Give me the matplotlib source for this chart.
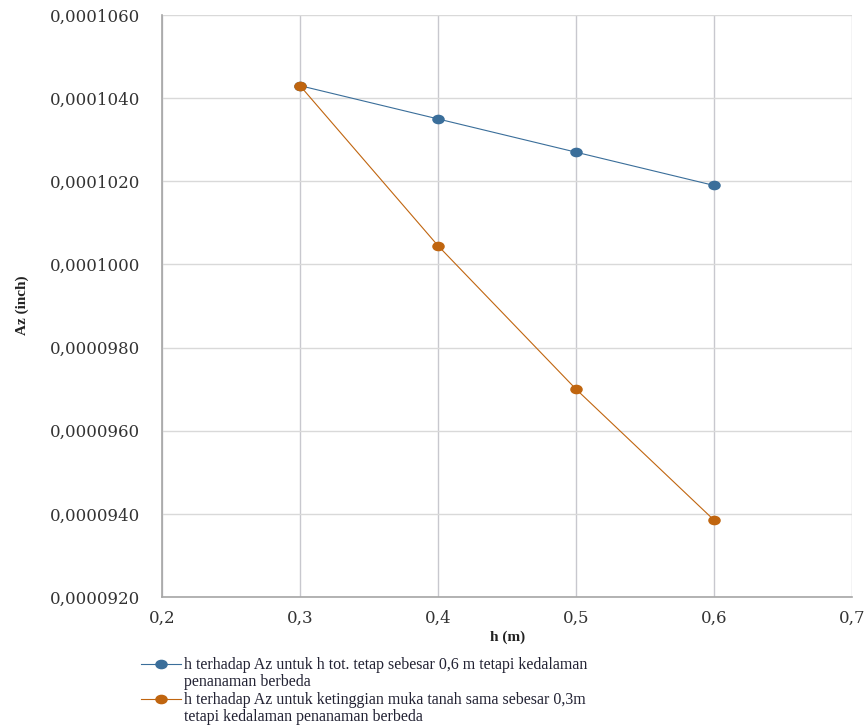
import matplotlib
matplotlib.use("Agg")
import matplotlib.pyplot as plt
from matplotlib.path import Path
from matplotlib.transforms import Affine2D
from matplotlib.ticker import FuncFormatter, MultipleLocator
from matplotlib.legend_handler import HandlerLine2D

# Data
h_values = [0.3, 0.4, 0.5, 0.6]
az_htot_tetap = [0.0001043, 0.0001035, 0.0001027, 0.0001019]
az_muka_tanah_sama = [0.0001043, 0.00010045, 0.0000970, 0.00009385]
series_labels = [
    "h terhadap Az untuk h tot. tetap sebesar 0,6 m tetapi kedalaman\npenanaman berbeda",
    "h terhadap Az untuk ketinggian muka tanah sama sebesar 0,3m\ntetapi kedalaman penanaman berbeda",
]
x_label = "h (m)"
y_label = "Az (inch)"

blue = "#3A6E9A"
orange = "#C0650F"
serif = ["Liberation Serif", "DejaVu Serif"]
tick_font = ["DejaVu Serif"]

# slightly wide elliptical marker
ellipse = Path.unit_circle().transformed(Affine2D().scale(1.35, 1.0))


class TopLineHandler(HandlerLine2D):
    """Legend handle aligned with the first line of a two-line label."""

    def __init__(self, shift, **kw):
        super().__init__(**kw)
        self.shift = shift

    def create_artists(self, legend, orig_handle, xdescent, ydescent,
                       width, height, fontsize, trans):
        artists = super().create_artists(legend, orig_handle, xdescent, ydescent,
                                         width, height, fontsize, trans)
        for a in artists:
            a.set_ydata([y + self.shift for y in a.get_ydata()])
        return artists


fig = plt.figure(figsize=(8.68, 7.26), dpi=100)
ax = fig.add_axes([162 / 868, 1 - 597 / 726, (852 - 162) / 868, (597 - 15) / 726])

l1, = ax.plot(h_values, az_htot_tetap, color=blue, lw=0.8, marker=ellipse,
              markersize=8, markerfacecolor=blue, markeredgecolor=blue, zorder=3)
l2, = ax.plot(h_values, az_muka_tanah_sama, color=orange, lw=0.8, marker=ellipse,
              markersize=8, markerfacecolor=orange, markeredgecolor=orange, zorder=3)

ax.set_xlim(0.2, 0.7)
ax.set_ylim(0.000092, 0.000106)
ax.xaxis.set_major_locator(MultipleLocator(0.1))
ax.yaxis.set_major_locator(MultipleLocator(0.000002))
ax.xaxis.set_major_formatter(FuncFormatter(lambda v, p: f"{v:.1f}".replace(".", ",")))
ax.yaxis.set_major_formatter(FuncFormatter(lambda v, p: f"{v:.7f}".replace(".", ",")))

ax.grid(axis="y", color="#D9D9D9", lw=1.0)
ax.grid(axis="x", color="#C8C8CE", lw=1.0)
ax.set_axisbelow(True)
for s in ("top", "right"):
    ax.spines[s].set_visible(False)
for s in ("left", "bottom"):
    ax.spines[s].set_color("#A6A6A6")
    ax.spines[s].set_linewidth(1.2)

ax.tick_params(axis="both", length=0, labelcolor="#333333")
ax.tick_params(axis="y", pad=16)
ax.tick_params(axis="x", pad=9)
for lab in ax.get_xticklabels() + ax.get_yticklabels():
    lab.set_family(tick_font)
    lab.set_fontsize(12)

fig.text(508 / 868, 1 - 637 / 726, x_label, ha="center", va="center",
         family=serif, fontweight="bold", fontsize=11, color="#222222")
fig.text(22 / 868, 1 - 305 / 726, y_label, ha="center", va="center", rotation=90,
         family=serif, fontweight="bold", fontsize=11, color="#222222")

handler = TopLineHandler(shift=7.5)
leg = fig.legend([l1, l2], series_labels, loc="upper left",
                 bbox_to_anchor=(133 / 868, 1 - 649 / 726), frameon=False,
                 prop={"family": serif, "size": 11.5}, handlelength=2.5,
                 handletextpad=0.2, labelspacing=0.12, borderpad=0.0,
                 labelcolor="#222233",
                 handler_map={l1: handler, l2: handler})
for t in leg.get_texts():
    t.set_linespacing(1.1)

fig.savefig("out.png", dpi=100)
